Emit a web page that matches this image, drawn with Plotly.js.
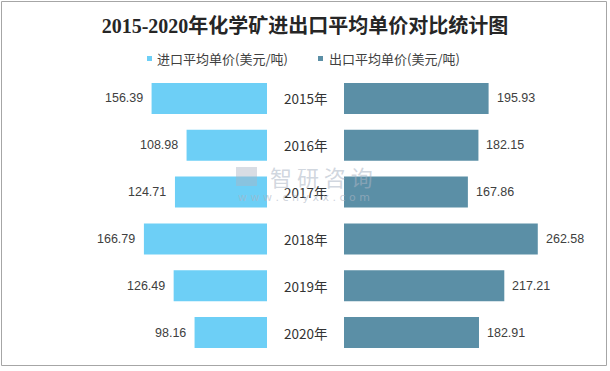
<!DOCTYPE html>
<html>
<head>
<meta charset="utf-8">
<script src="https://cdn.plot.ly/plotly-3.0.1.min.js"></script>
<style>html,body{margin:0;padding:0;background:#fff;}</style>
</head>
<body>
<div id="chart" style="width:610px;height:371px;"></div>
<script>
var years = ["2015年", "2016年", "2017年", "2018年", "2019年", "2020年"];
var importPrice = [156.39, 108.98, 124.71, 166.79, 126.49, 98.16];
var exportPrice = [195.93, 182.15, 167.86, 262.58, 217.21, 182.91];
var seriesNames = ["进口平均单价(美元/吨)", "出口平均单价(美元/吨)"];
var colors = ["#6DCFF6", "#5B8FA6"];
var titleText = "2015-2020年化学矿进出口平均单价对比统计图";

var W = 610, H = 371;
var scale = 0.738; // px per unit
var leftEnd = 267, rightStart = 344;
var catTop = 75, catBottom = 356;

var traces = [
  {type: "bar", orientation: "h", x: importPrice, y: years, xaxis: "x", yaxis: "y",
   marker: {color: colors[0]}, name: seriesNames[0], showlegend: false, hoverinfo: "x+y"},
  {type: "bar", orientation: "h", x: exportPrice, y: years, xaxis: "x2", yaxis: "y2",
   marker: {color: colors[1]}, name: seriesNames[1], showlegend: false, hoverinfo: "x+y"}
];

var lblFont = {family: "Liberation Sans, Arial, sans-serif", size: 12.5, color: "#404040"};
var annotations = [];
years.forEach(function (yr, i) {
  annotations.push({x: importPrice[i], y: yr, xref: "x", yref: "y", text: importPrice[i].toFixed(2),
    showarrow: false, xanchor: "right", xshift: -7, font: lblFont});
  annotations.push({x: exportPrice[i], y: yr, xref: "x2", yref: "y2", text: exportPrice[i].toFixed(2),
    showarrow: false, xanchor: "left", xshift: 6, font: lblFont});
  annotations.push({x: 305.5 / W, y: yr, xref: "paper", yref: "y", text: yr, showarrow: false,
    xanchor: "center", font: {family: "Noto Sans CJK SC, sans-serif", size: 13.5, color: "#333333"}});
});

// legend (custom)
var legFont = {family: "Noto Sans CJK SC, sans-serif", size: 13, color: "#404040"};
var legendItems = [{sq: 147, tx: 155}, {sq: 318, tx: 327}];
var shapes = [];
legendItems.forEach(function (it, i) {
  shapes.push({type: "rect", xref: "paper", yref: "paper",
    x0: it.sq / W, x1: (it.sq + 5) / W, y0: 1 - 61 / H, y1: 1 - 56 / H,
    fillcolor: colors[i], line: {width: 0}});
  annotations.push({x: it.tx / W, y: 1 - 58.5 / H, xref: "paper", yref: "paper", text: seriesNames[i],
    showarrow: false, xanchor: "left", yanchor: "middle", font: legFont});
});

// watermark
annotations.push({x: 321 / W, y: 1 - 176 / H, xref: "paper", yref: "paper", text: "智 研 咨 询",
  showarrow: false, xanchor: "center", yanchor: "middle",
  font: {family: "Noto Sans CJK SC, sans-serif", size: 22, color: "rgba(170,180,195,0.55)"}});
annotations.push({x: 304 / W, y: 1 - 197 / H, xref: "paper", yref: "paper", text: "w w w . c h y x x . c o m",
  showarrow: false, xanchor: "center", yanchor: "middle",
  font: {family: "DejaVu Sans, sans-serif", size: 11, color: "rgba(170,180,195,0.6)"}});
shapes.push({type: "rect", xref: "paper", yref: "paper", x0: 236 / W, x1: 257 / W,
  y0: 1 - 186 / H, y1: 1 - 167 / H, fillcolor: "rgba(170,180,195,0.45)", line: {width: 0}, layer: "above"});

// border
shapes.push({type: "rect", xref: "paper", yref: "paper", x0: 1.5 / W, x1: 606.5 / W,
  y0: 1 - 365.5 / H, y1: 1 - 1.5 / H, line: {color: "#a6a6a6", width: 1}, fillcolor: "rgba(0,0,0,0)"});

var yDomain = [(H - catBottom) / H, (H - catTop) / H];
var hidden = {showgrid: false, zeroline: false, showticklabels: false, showline: false, ticks: ""};

var layout = {
  width: W, height: H,
  margin: {l: 0, r: 0, t: 0, b: 0},
  paper_bgcolor: "#ffffff", plot_bgcolor: "rgba(0,0,0,0)",
  title: {text: titleText, x: 0.5, xanchor: "center", y: 1 - 26 / H, yanchor: "middle",
    font: {family: "Liberation Serif, Noto Sans CJK SC, serif", size: 20, color: "#262626", weight: "bold"}},
  showlegend: false,
  bargap: 0.338,
  xaxis: Object.assign({domain: [0, leftEnd / W], range: [leftEnd / scale, 0], anchor: "y"}, hidden),
  xaxis2: Object.assign({domain: [rightStart / W, 1], range: [0, (W - rightStart) / scale], anchor: "y2"}, hidden),
  yaxis: Object.assign({domain: yDomain, autorange: "reversed", type: "category", anchor: "x"}, hidden),
  yaxis2: Object.assign({domain: yDomain, autorange: "reversed", type: "category", anchor: "x2", matches: "y"}, hidden),
  annotations: annotations,
  shapes: shapes
};

Plotly.newPlot("chart", traces, layout, {displayModeBar: false, staticPlot: true});
</script>
</body>
</html>
